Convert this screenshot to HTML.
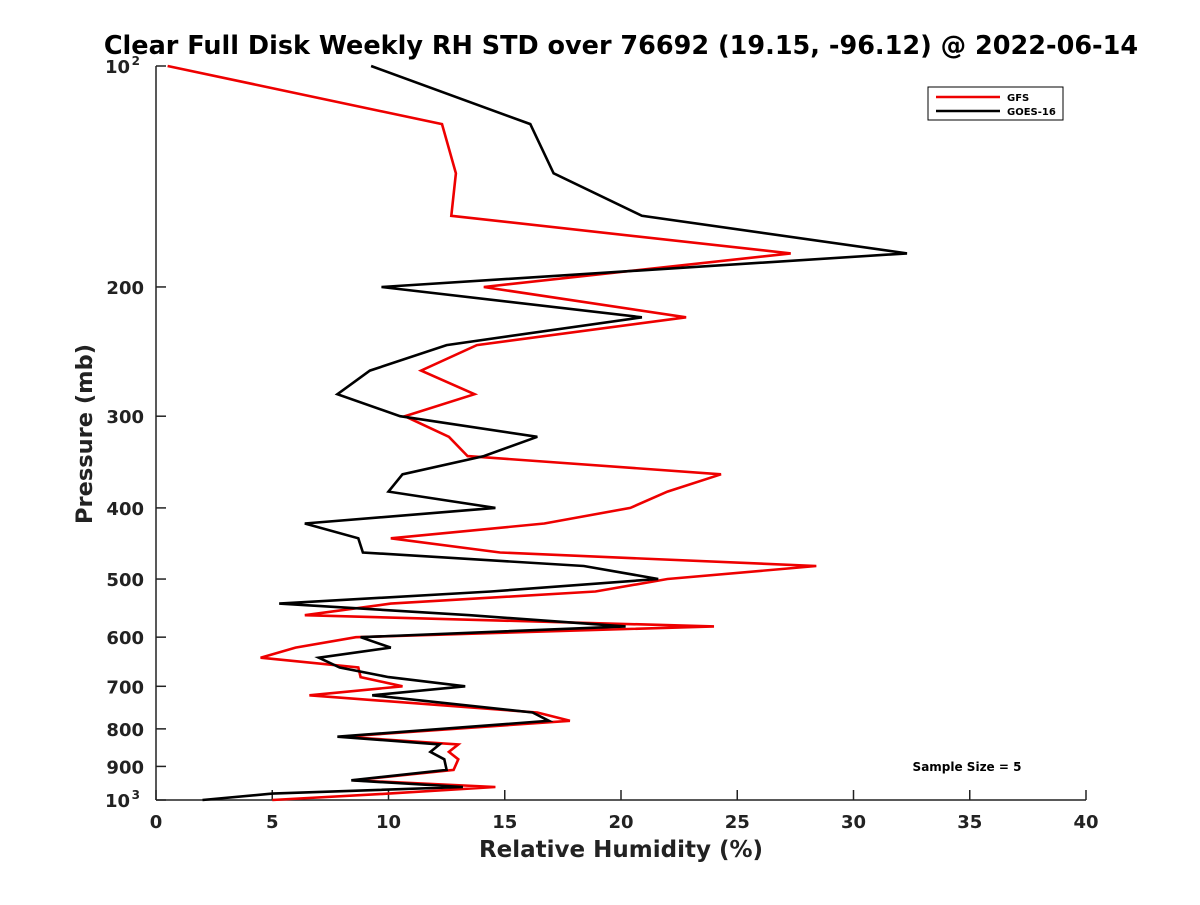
<!DOCTYPE html>
<html><head><meta charset="utf-8"><style>
body{margin:0;background:#fff}
svg text{font-family:"DejaVu Sans","Liberation Sans",sans-serif;font-weight:bold;fill:#222}
</style></head><body>
<svg id="chart" width="1200" height="900">
<text x="621" y="54" text-anchor="middle" font-size="25.5" style="fill:#000">Clear Full Disk Weekly RH STD over 76692 (19.15, -96.12) @ 2022-06-14</text>
<g id="axes"></g>
<g id="series"></g>
<text x="621" y="857" text-anchor="middle" font-size="23">Relative Humidity (%)</text>
<text transform="translate(92,434) rotate(-90)" text-anchor="middle" font-size="22.5">Pressure (mb)</text>
<g>
<rect x="928" y="87" width="135" height="33" fill="#fff" stroke="#000" stroke-width="1"/>
<line x1="936" y1="97" x2="1000" y2="97" stroke="#e00" stroke-width="2.5"/>
<text x="1007" y="101" font-size="10" style="fill:#000">GFS</text>
<line x1="936" y1="111" x2="1000" y2="111" stroke="#000" stroke-width="2.5"/>
<text x="1007" y="115" font-size="10" style="fill:#000">GOES-16</text>
</g>
<text x="967" y="771" text-anchor="middle" font-size="12" style="fill:#000">Sample Size = 5</text>
</svg>
<script>
const pressures=[100,120,140,160,180,200,220,240,260,280,300,320,340,360,380,400,420,440,460,480,500,520,540,560,580,600,620,640,660,680,700,720,760,780,820,840,860,880,910,940,960,980,1000];
const gfsValues=[0.5,12.3,12.9,12.7,27.3,14.1,22.8,13.8,11.4,13.7,10.7,12.6,13.4,24.3,22.0,20.4,16.7,10.1,14.8,28.4,22.0,18.9,10.1,6.4,24.0,8.6,6.0,4.5,8.7,8.8,10.6,6.6,16.4,17.8,8.0,13.0,12.6,13.0,12.8,8.5,14.6,10,5.0];
const goesValues=[9.25,16.1,17.1,20.9,32.3,9.7,20.9,12.5,9.2,7.8,10.5,16.4,14.1,10.6,10.0,14.6,6.4,8.7,8.9,18.4,21.6,14.4,5.3,13.5,20.2,8.8,10.1,7.0,7.9,10.0,13.3,9.3,16.2,16.9,7.8,12.2,11.8,12.4,12.5,8.4,13.2,5.0,2.0];
const xTicks=[0,5,10,15,20,25,30,35,40];
const yTicks=[100,200,300,400,500,600,700,800,900,1000];
const yTickLabels=["10","200","300","400","500","600","700","800","900","10"];
const NS="http://www.w3.org/2000/svg";
const X0=156,X1=1086,Y0=66,Y1=800;
const xs=v=>X0+(v-0)/(40-0)*(X1-X0);
const ys=p=>Y0+Math.log10(p/100)*(Y1-Y0);
function mk(tag,attrs,parent){const e=document.createElementNS(NS,tag);for(const k in attrs)e.setAttribute(k,attrs[k]);parent.appendChild(e);return e;}
const axes=document.getElementById('axes');
const spineL=mk('line',{x1:X0,y1:Y0,x2:X0,y2:Y1,stroke:'#222','stroke-width':1.5},axes);


const spineB=mk('line',{x1:X0,y1:Y1,x2:X1,y2:Y1,stroke:'#222','stroke-width':1.5},axes);


xTicks.forEach(v=>{
  const x=xs(v);
  const t=mk('line',{x1:x,y1:Y1,x2:x,y2:Y1-10,stroke:'#222','stroke-width':1.5},axes);
  
  
  const l=mk('text',{x:x,y:Y1+28,'text-anchor':'middle','font-size':18},axes);
  l.textContent=v;
  
  
});
yTicks.forEach((p,i)=>{
  const y=ys(p);
  const t=mk('line',{x1:X0,y1:y,x2:X0+10,y2:y,stroke:'#222','stroke-width':1.5},axes);
  
  
  const l=mk('text',{x:X0-12,y:y+7,'text-anchor':'end','font-size':18},axes);
  l.textContent=yTickLabels[i];
  if(p===100||p===1000){
    l.setAttribute('x',X0-26);
    const s=mk('text',{x:X0-16,y:y-1,'text-anchor':'end','font-size':12},axes);
    s.textContent=p===100?'2':'3';
    
    
  }
  
  
});
const ser=document.getElementById('series');
function drawLine(vals,color,name){
  const pts=vals.map((v,i)=>xs(v).toFixed(1)+','+ys(pressures[i]).toFixed(1)).join(' ');
  const pl=mk('polyline',{points:pts,fill:'none',stroke:color,'stroke-width':2.6,'stroke-linejoin':'miter'},ser);
  
  
}
drawLine(gfsValues,'#e00','gfs-line');
drawLine(goesValues,'#000','goes16-line');
</script>
</body></html>
